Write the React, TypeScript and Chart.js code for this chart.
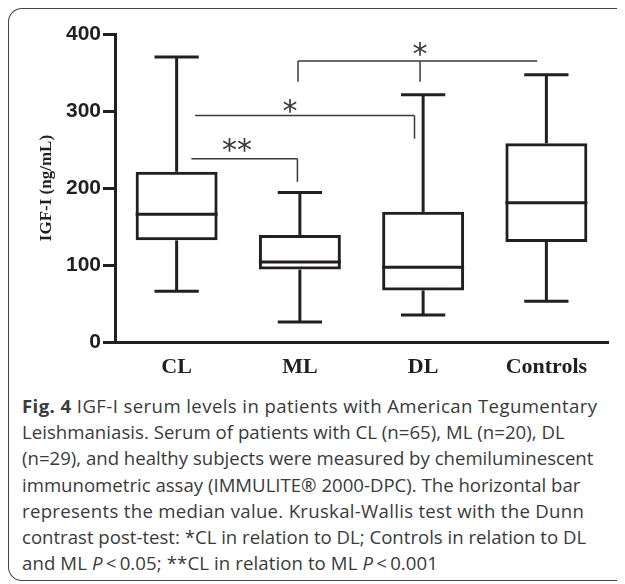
import React, { useEffect, useRef } from "react";
import { Chart, registerables } from "chart.js";

Chart.register(...registerables);

// ---- data (ng/mL) ----
const categories = ["CL", "ML", "DL", "Controls"];
const whiskerMin = [66, 26, 35, 53];
const q1 = [132, 94, 67, 130];
const median = [166, 104, 97, 181];
const q3 = [221, 139, 169, 258];
const whiskerMax = [370, 194, 321, 347];
const yTicks = [0, 100, 200, 300, 400];

// significance brackets: x in category units, y in ng/mL
const bracketLabels = ["**", "*", "*"];
const bracketStart = [0.12, 0.15, 0.985];
const bracketEnd = [0.98, 1.93, 2.925];
const bracketY = [238, 294, 365];
const bracketDrops = [[0.98], [1.93], [0.985, 1.975]];
const bracketDropY = [208, 264, 338];
const bracketLabelX = [0.49, 0.92, 1.975];
const bracketLabelY = [256, 306, 381];

const INK = "#231f20";
const THIN = "#3a3a3a";

const boxPlugin = {
  id: "boxWhiskers",
  afterDatasetsDraw(chart: any) {
    const { ctx } = chart;
    const x = chart.scales.x;
    const y = chart.scales.y;
    const meta = chart.getDatasetMeta(0);
    ctx.save();
    ctx.strokeStyle = INK;
    ctx.lineWidth = 3;
    ctx.lineCap = "butt";
    meta.data.forEach((bar: any, i: number) => {
      const cx = x.getPixelForValue(i);
      const w = bar.width;
      const cap = w * 0.54;
      const line = (x1: number, y1: number, x2: number, y2: number) => {
        ctx.beginPath();
        ctx.moveTo(x1, y1);
        ctx.lineTo(x2, y2);
        ctx.stroke();
      };
      // median
      line(cx - w / 2, y.getPixelForValue(median[i]), cx + w / 2, y.getPixelForValue(median[i]));
      // upper whisker
      line(cx, y.getPixelForValue(q3[i]), cx, y.getPixelForValue(whiskerMax[i]));
      line(cx - cap / 2, y.getPixelForValue(whiskerMax[i]), cx + cap / 2, y.getPixelForValue(whiskerMax[i]));
      // lower whisker
      line(cx, y.getPixelForValue(q1[i]), cx, y.getPixelForValue(whiskerMin[i]));
      line(cx - cap / 2, y.getPixelForValue(whiskerMin[i]), cx + cap / 2, y.getPixelForValue(whiskerMin[i]));
    });
    ctx.restore();
  },
};

const bracketPlugin = {
  id: "brackets",
  afterDraw(chart: any) {
    const { ctx } = chart;
    const x = chart.scales.x;
    const y = chart.scales.y;
    const px = (v: number) => x.getPixelForValue(0) + v * (x.getPixelForValue(1) - x.getPixelForValue(0));
    ctx.save();
    ctx.strokeStyle = THIN;
    ctx.lineWidth = 1.5;
    bracketLabels.forEach((lab, i) => {
      const yy = y.getPixelForValue(bracketY[i]);
      ctx.beginPath();
      ctx.moveTo(px(bracketStart[i]), yy);
      ctx.lineTo(px(bracketEnd[i]), yy);
      ctx.stroke();
      bracketDrops[i].forEach((d) => {
        ctx.beginPath();
        ctx.moveTo(px(d), yy);
        ctx.lineTo(px(d), y.getPixelForValue(bracketDropY[i]));
        ctx.stroke();
      });
      ctx.fillStyle = THIN;
      ctx.font = '30px "DejaVu Sans"';
      ctx.textAlign = "center";
      ctx.textBaseline = "alphabetic";
      const m = ctx.measureText(lab);
      const asc = m.actualBoundingBoxAscent;
      const desc = m.actualBoundingBoxDescent;
      const cy = y.getPixelForValue(bracketLabelY[i]);
      ctx.fillText(lab, px(bracketLabelX[i]), cy + (asc - desc) / 2);
    });
    ctx.restore();
  },
};

function BoxChart() {
  const ref = useRef<HTMLCanvasElement | null>(null);
  useEffect(() => {
    if (!ref.current) return;
    const chart = new Chart(ref.current, {
      type: "bar",
      data: {
        labels: categories,
        datasets: [
          {
            data: q1.map((v, i) => [v, q3[i]]) as any,
            backgroundColor: "rgba(0,0,0,0)",
            borderColor: INK,
            borderWidth: 3,
            borderSkipped: false,
            categoryPercentage: 1,
            barPercentage: 0.665,
          },
        ],
      },
      options: {
        responsive: false,
        animation: false,
        devicePixelRatio: 1,
        layout: { padding: { left: 10, right: 17, top: 26, bottom: 0 } },
        plugins: { legend: { display: false }, tooltip: { enabled: false } },
        scales: {
          x: {
            grid: { display: false, drawTicks: false },
            border: { display: true, color: INK, width: 3 },
            ticks: {
              color: INK,
              padding: 12,
              font: { family: '"Liberation Serif", serif', size: 22, weight: "bold" },
            },
            afterFit: (s: any) => {
              s.height = 51;
            },
          },
          y: {
            min: 0,
            max: 400,
            afterBuildTicks: (s: any) => {
              s.ticks = yTicks.map((v) => ({ value: v }));
            },
            grid: { drawOnChartArea: false, drawTicks: true, tickLength: 12, lineWidth: 3, color: INK },
            border: { display: true, color: INK, width: 3 },
            ticks: {
              color: INK,
              padding: 2,
              font: { family: '"Liberation Sans", Arial, sans-serif', size: 21, weight: "bold" },
            },
            title: {
              display: true,
              text: "IGF-I (ng/mL)",
              color: INK,
              padding: { top: 18, bottom: 0 },
              font: { family: '"Liberation Serif", serif', size: 17, weight: "bold" },
            },
            afterFit: (s: any) => {
              s.width = 97;
            },
          },
        },
      },
      plugins: [boxPlugin, bracketPlugin],
    });
    return () => chart.destroy();
  }, []);
  return <canvas ref={ref} width={617} height={385} style={{ display: "block", position: "absolute", left: 0, top: 0 }} />;
}

const captionStyle: React.CSSProperties = {
  position: "absolute",
  left: 14,
  top: 385,
  fontFamily: '"Open Sans", sans-serif',
  fontSize: 18.6,
  lineHeight: "26.2px",
  color: "#3a3a3a",
  whiteSpace: "nowrap",
};

export default function App() {
  return (
    <div style={{ position: "relative", width: 617, height: 576 }}>
      <div
        style={{
          position: "absolute",
          left: 0,
          top: 0,
          width: 617,
          height: 573,
          boxSizing: "border-box",
          borderTop: "1.5px solid #444",
          borderLeft: "1.5px solid #444",
          borderBottom: "1.5px solid #444",
          borderRadius: "14px 0 0 14px",
        }}
      />
      <BoxChart />
      <div style={captionStyle}>
        <div style={{ letterSpacing: "0.4px" }}>
          <b>Fig. 4</b> IGF-I serum levels in patients with American Tegumentary
        </div>
        <div style={{ letterSpacing: "0.03px" }}>Leishmaniasis. Serum of patients with CL (n=65), ML (n=20), DL</div>
        <div style={{ letterSpacing: "0px" }}>(n=29), and healthy subjects were measured by chemiluminescent</div>
        <div style={{ letterSpacing: "0px" }}>immunometric assay (IMMULITE® 2000-DPC). The horizontal bar</div>
        <div style={{ letterSpacing: "0.3px" }}>represents the median value. Kruskal-Wallis test with the Dunn</div>
        <div style={{ letterSpacing: "0px" }}>contrast post-test: *CL in relation to DL; Controls in relation to DL</div>
        <div style={{ letterSpacing: "0.1px" }}>
          and ML <i>P</i>&thinsp;&lt;&thinsp;0.05; **CL in relation to ML <i>P</i>&thinsp;&lt;&thinsp;0.001
        </div>
      </div>
    </div>
  );
}
